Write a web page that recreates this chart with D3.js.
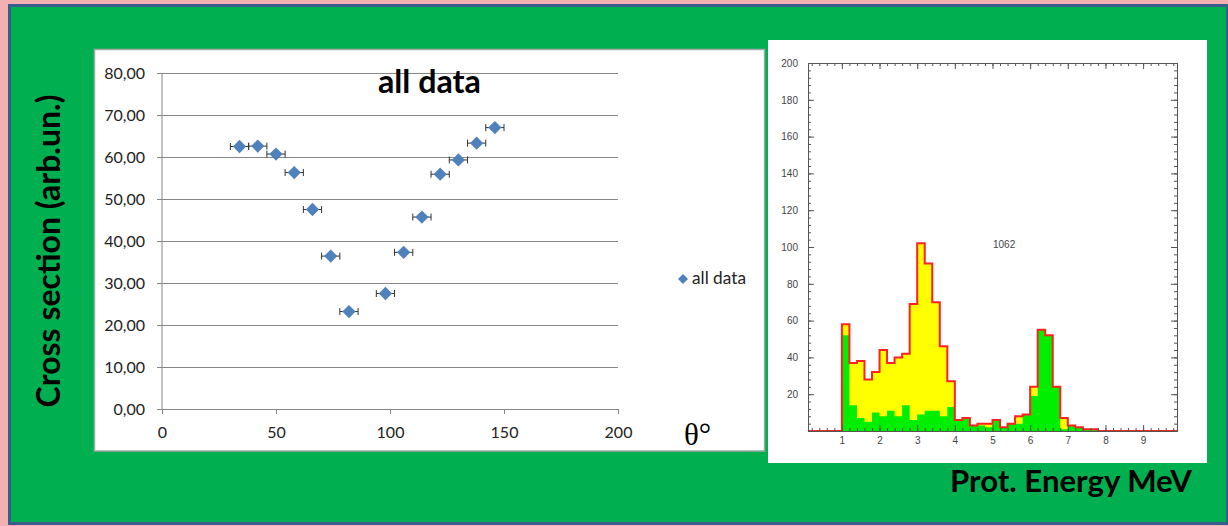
<!DOCTYPE html>
<html>
<head>
<meta charset="utf-8">
<script src="https://cdn.jsdelivr.net/npm/d3@7"></script>
<style>
body { margin: 0; background: #f4b0b0; }
svg { display: block; }
</style>
</head>
<body>
<svg width="1228" height="526"></svg>
<script>
// angular distribution (left chart)
var theta = [34, 42, 50, 58, 66, 74, 82, 98, 106, 114, 122, 130, 138, 146];
var crossSection = [62.5, 62.6, 60.7, 56.3, 47.5, 36.4, 23.2, 27.5, 37.3, 45.7, 55.9, 59.3, 63.3, 67.0];
var thetaErr = [4, 4, 4, 4, 4, 4, 4, 4, 4, 4, 4, 4, 4, 4];
var csTicks = [0, 10, 20, 30, 40, 50, 60, 70, 80];
var thetaTicks = [0, 50, 100, 150, 200];

// proton energy spectrum (right chart), lower edge of each 0.2 MeV bin
var binLow = [1.0, 1.2, 1.4, 1.6, 1.8, 2.0, 2.2, 2.4, 2.6, 2.8, 3.0, 3.2, 3.4, 3.6, 3.8,
              4.0, 4.2, 4.4, 4.6, 4.8, 5.0, 5.2, 5.4, 5.6, 5.8, 6.0, 6.2, 6.4, 6.6, 6.8,
              7.0, 7.2, 7.4, 7.6];
var totalCounts = [58, 37, 38, 28, 32, 44, 37, 40, 42, 69, 102, 91, 70, 46, 27,
                   6, 7, 3, 4, 4, 6, 2, 4, 8, 9, 24, 55, 52, 24, 7,
                   3, 2, 1, 1];
var gatedCounts = [52, 14, 7, 5, 10, 8, 11, 8, 14, 6, 9, 11, 11, 8, 13,
                   6, 7, 3, 3, 2, 6, 2, 4, 4, 9, 19, 55, 52, 24, 1,
                   3, 2, 1, 1];
var binWidth = 0.2;
var energyTicks = [1, 2, 3, 4, 5, 6, 7, 8, 9];
var countTicks = [20, 40, 60, 80, 100, 120, 140, 160, 180, 200];
var entries = 1062;

var svg = d3.select('svg');

//scales the font so a text fills a given width
function fitWidth(sel, w) {
    sel.style('font-size', '20px');
    var l = sel.node().getComputedTextLength();
    sel.style('font-size', (20 * w / l) + 'px');
}

//green slide background with blue border
svg.append('rect')
    .attr('x', 9.5).attr('y', 5.5)
    .attr('width', 1218).attr('height', 518)
    .style('fill', '#00af50')
    .style('stroke', '#385d8a')
    .style('stroke-width', 3);

/*            --------- left chart -----------          */

svg.append('rect')
    .attr('x', 94.5).attr('y', 49.5)
    .attr('width', 670).attr('height', 401.5)
    .style('fill', '#fff')
    .style('stroke', '#a6a6a6')
    .style('stroke-width', 1.5);

var x = d3.scaleLinear().domain([0, 200]).range([162, 618]);
var y = d3.scaleLinear().domain([0, 80]).range([409, 73]);

var commaFormat = d3.formatLocale({decimal: ',', thousands: '.', grouping: [3], currency: ['', '']}).format('.2f');

var yAxisG = svg.append('g')
    .attr('transform', 'translate(157,0)')
    .call(d3.axisLeft(y).tickValues(csTicks).tickSize(-461).tickPadding(12).tickFormat(commaFormat));
yAxisG.select('.domain').remove();
yAxisG.selectAll('line').style('stroke', '#868686');
yAxisG.selectAll('text')
    .style('font-family', 'Lato')
    .style('font-size', '16px')
    .style('fill', '#222');

svg.append('line')
    .attr('x1', x(0)).attr('x2', x(0))
    .attr('y1', y(80)).attr('y2', y(0))
    .style('stroke', '#868686');

var xAxisG = svg.append('g')
    .attr('transform', 'translate(0,' + y(0) + ')')
    .call(d3.axisBottom(x).tickValues(thetaTicks).tickSize(5).tickSizeOuter(0).tickPadding(13));
xAxisG.select('.domain').style('stroke', '#868686');
xAxisG.selectAll('line').style('stroke', '#868686');
xAxisG.selectAll('text')
    .style('font-family', 'Lato')
    .style('font-size', '16px')
    .style('fill', '#222');

var points = theta.map(function(t, i) {
    return {t: t, cs: crossSection[i], err: thetaErr[i]};
});

//horizontal error bars
var errG = svg.append('g').style('stroke', '#333').style('stroke-width', 1);
points.forEach(function(d) {
    errG.append('line')
        .attr('x1', x(d.t - d.err)).attr('x2', x(d.t + d.err))
        .attr('y1', y(d.cs)).attr('y2', y(d.cs));
    [d.t - d.err, d.t + d.err].forEach(function(e) {
        errG.append('line')
            .attr('x1', x(e)).attr('x2', x(e))
            .attr('y1', y(d.cs) - 3.5).attr('y2', y(d.cs) + 3.5);
    });
});

var diamond = d3.symbol().type(d3.symbolSquare).size(88);
svg.selectAll('.pt')
    .data(points)
    .enter()
    .append('path')
    .attr('class', 'pt')
    .attr('d', diamond)
    .attr('transform', function(d) {return 'translate(' + x(d.t) + ',' + y(d.cs) + ') rotate(45)';})
    .style('fill', '#4f81bd');

var title = svg.append('text')
    .attr('x', 429.5).attr('y', 93)
    .attr('text-anchor', 'middle')
    .style('font-family', 'Lato')
    .style('font-weight', 700)
    .style('fill', '#000')
    .text('all data');
fitWidth(title, 103);

//legend
svg.append('path')
    .attr('d', d3.symbol().type(d3.symbolSquare).size(50))
    .attr('transform', 'translate(683,279) rotate(45)')
    .style('fill', '#4f81bd');
var legendText = svg.append('text')
    .attr('x', 692).attr('y', 284)
    .style('font-family', 'Lato')
    .style('fill', '#222')
    .text('all data');
fitWidth(legendText, 54);

svg.append('text')
    .attr('x', 684).attr('y', 445)
    .style('font-family', 'Liberation Serif')
    .style('font-size', '31px')
    .style('fill', '#000')
    .text('θ°');

var yTitle = svg.append('text')
    .attr('transform', 'translate(60,251) rotate(-90)')
    .attr('text-anchor', 'middle')
    .style('font-family', 'Lato')
    .style('font-weight', 700)
    .style('fill', '#000')
    .text('Cross section (arb.un.)');
fitWidth(yTitle, 313);

/*            --------- right chart -----------          */

svg.append('rect')
    .attr('x', 768).attr('y', 40)
    .attr('width', 439).attr('height', 423)
    .style('fill', '#fff');

var hx = d3.scaleLinear().domain([0.1, 9.9]).range([808, 1177]);
var hy = d3.scaleLinear().domain([0, 200]).range([431, 63]);

var totalData = binLow.map(function(b, i) {return [b, totalCounts[i]];});
var gatedData = binLow.map(function(b, i) {return [b, gatedCounts[i]];});
var lastEdge = binLow[binLow.length - 1] + binWidth;
totalData.push([lastEdge, totalCounts[totalCounts.length - 1]]);
gatedData.push([lastEdge, gatedCounts[gatedCounts.length - 1]]);

var stepArea = d3.area()
    .curve(d3.curveStepAfter)
    .x(function(d) {return hx(d[0]);})
    .y0(hy(0))
    .y1(function(d) {return hy(d[1]);});

svg.append('path').attr('d', stepArea(totalData)).style('fill', '#ffff00');
svg.append('path').attr('d', stepArea(gatedData)).style('fill', '#00ee00');

//red outline of the full spectrum, zero outside the filled bins
var outline = [[0.1, 0]].concat(binLow.map(function(b, i) {return [b, totalCounts[i]];}))
    .concat([[lastEdge, 0], [9.9, 0]]);
svg.append('path')
    .attr('d', d3.line().curve(d3.curveStepAfter)
        .x(function(d) {return hx(d[0]);})
        .y(function(d) {return hy(d[1]);})(outline))
    .style('fill', 'none')
    .style('stroke', '#ff2020')
    .style('stroke-width', 2);

var minorCount = d3.range(0, 201, 4);
var minorEnergy = d3.range(0.2, 9.85, 0.2);

function styleFrame(g) {
    g.selectAll('.domain').style('stroke', '#555');
    g.selectAll('line').style('stroke', '#555');
    g.selectAll('text')
        .style('font-family', 'Liberation Sans')
        .style('font-size', '10px')
        .style('fill', '#444');
}

svg.append('g').attr('transform', 'translate(' + hx(0.1) + ',0)')
    .call(d3.axisLeft(hy).tickValues(minorCount).tickSize(-3).tickSizeOuter(0).tickFormat(''))
    .call(styleFrame);
svg.append('g').attr('transform', 'translate(' + hx(0.1) + ',0)')
    .call(d3.axisLeft(hy).tickValues(countTicks).tickSize(-6).tickSizeOuter(0).tickPadding(10))
    .call(styleFrame);
svg.append('g').attr('transform', 'translate(' + hx(9.9) + ',0)')
    .call(d3.axisRight(hy).tickValues(minorCount).tickSize(-3).tickSizeOuter(0).tickFormat(''))
    .call(styleFrame);
svg.append('g').attr('transform', 'translate(' + hx(9.9) + ',0)')
    .call(d3.axisRight(hy).tickValues(countTicks).tickSize(-6).tickSizeOuter(0).tickFormat(''))
    .call(styleFrame);
svg.append('g').attr('transform', 'translate(0,' + hy(200) + ')')
    .call(d3.axisTop(hx).tickValues(minorEnergy).tickSize(-3).tickSizeOuter(0).tickFormat(''))
    .call(styleFrame);
svg.append('g').attr('transform', 'translate(0,' + hy(200) + ')')
    .call(d3.axisTop(hx).tickValues(energyTicks).tickSize(-6).tickSizeOuter(0).tickFormat(''))
    .call(styleFrame);
svg.append('g').attr('transform', 'translate(0,' + hy(0) + ')')
    .call(d3.axisBottom(hx).tickValues(minorEnergy).tickSize(-3).tickSizeOuter(0).tickFormat(''))
    .call(styleFrame);
svg.append('g').attr('transform', 'translate(0,' + hy(0) + ')')
    .call(d3.axisBottom(hx).tickValues(energyTicks).tickSize(-6).tickSizeOuter(0).tickPadding(6))
    .call(styleFrame);

svg.append('text')
    .attr('x', 993).attr('y', 248)
    .style('font-family', 'Liberation Sans')
    .style('font-size', '10px')
    .style('fill', '#444')
    .text(entries);

var eTitle = svg.append('text')
    .attr('x', 950).attr('y', 492)
    .style('font-family', 'Lato')
    .style('font-weight', 700)
    .style('fill', '#000')
    .text('Prot. Energy MeV');
fitWidth(eTitle, 242);
</script>
</body>
</html>
